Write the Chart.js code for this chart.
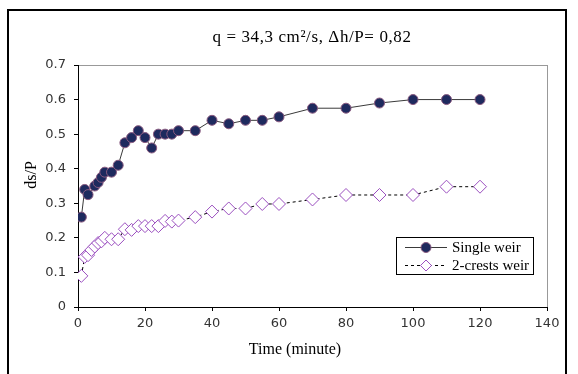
<!DOCTYPE html>
<html>
<head>
<meta charset="utf-8">
<script src="https://cdn.jsdelivr.net/npm/chart.js@4.4.1/dist/chart.umd.min.js"></script>
<style>
  html, body { margin: 0; padding: 0; background: #fff; }
  #wrap { position: relative; width: 578px; height: 374px; }
</style>
</head>
<body>
<div id="wrap"><canvas id="chart" width="578" height="374"></canvas></div>
<script>
// time in minutes
var singleTime = [1, 2, 3, 5, 6, 7, 8, 10, 12, 14, 16, 18, 20, 22, 24, 26, 28, 30, 35, 40, 45, 50, 55, 60, 70, 80, 90, 100, 110, 120];
var singleDs = [0.26, 0.34, 0.325, 0.35, 0.36, 0.375, 0.39, 0.39, 0.41, 0.475, 0.49, 0.51, 0.49, 0.46, 0.50, 0.50, 0.50, 0.51, 0.51, 0.54, 0.53, 0.54, 0.54, 0.55, 0.575, 0.575, 0.59, 0.60, 0.60, 0.60];

var crestTime = [1, 2, 3, 4, 5, 6, 7, 8, 10, 12, 14, 16, 18, 20, 22, 24, 26, 28, 30, 35, 40, 45, 50, 55, 60, 70, 80, 90, 100, 110, 120];
var crestDs = [0.09, 0.145, 0.15, 0.165, 0.175, 0.185, 0.19, 0.20, 0.196, 0.196, 0.225, 0.223, 0.234, 0.234, 0.234, 0.234, 0.249, 0.247, 0.25, 0.26, 0.276, 0.285, 0.285, 0.298, 0.298, 0.311, 0.324, 0.324, 0.324, 0.348, 0.348];

var xTicks = [0, 20, 40, 60, 80, 100, 120, 140];
var yTicks = [0, 0.1, 0.2, 0.3, 0.4, 0.5, 0.6, 0.7];

var chartTitle = "q = 34,3 cm\u00B2/s, \u0394h/P= 0,82";
var xTitle = "Time (minute)";
var yTitle = "ds/P";
var seriesNames = ["Single weir", "2-crests weir"];

function toPoints(xs, ys) {
  return xs.map(function (x, i) { return { x: x, y: ys[i] }; });
}

var serif = "'Liberation Serif', 'DejaVu Serif', serif";
var sans = "Verdana, 'DejaVu Sans', sans-serif";

// frame, titles and legend box (excel style)
var decor = {
  id: 'decor',
  beforeDraw: function (chart) {
    var ctx = chart.ctx;
    ctx.save();
    ctx.fillStyle = '#fff';
    ctx.fillRect(0, 0, chart.width, chart.height);
    ctx.strokeStyle = '#000';
    ctx.lineWidth = 2;
    ctx.strokeRect(8, 10, 558, 400);
    ctx.restore();
  },
  afterDraw: function (chart) {
    var ctx = chart.ctx;
    var ds = chart.data.datasets;
    ctx.save();
    ctx.fillStyle = '#000';
    ctx.textAlign = 'center';
    ctx.textBaseline = 'middle';
    ctx.font = '17px ' + serif;
    ctx.letterSpacing = '0.6px';
    ctx.fillText(chartTitle, 312, 38);
    ctx.letterSpacing = '0px';
    ctx.font = '16px ' + serif;
    ctx.fillText(xTitle, 295, 350);
    ctx.translate(32, 175);
    ctx.rotate(-Math.PI / 2);
    ctx.fillText(yTitle, 0, 0);
    ctx.restore();

    // legend
    ctx.save();
    ctx.strokeStyle = '#000';
    ctx.lineWidth = 1;
    ctx.fillStyle = '#fff';
    ctx.fillRect(396.5, 237.5, 137, 37);
    ctx.strokeRect(396.5, 237.5, 137, 37);
    ctx.font = '15px ' + serif;
    ctx.textAlign = 'left';
    ctx.textBaseline = 'middle';
    for (var i = 0; i < ds.length; i++) {
      var y = 247.5 + i * 18;
      ctx.strokeStyle = ds[i].borderColor;
      ctx.lineWidth = 1;
      ctx.setLineDash(ds[i].borderDash || []);
      ctx.beginPath();
      ctx.moveTo(405, y);
      ctx.lineTo(447, y);
      ctx.stroke();
      ctx.setLineDash([]);
      ctx.fillStyle = ds[i].pointBackgroundColor;
      ctx.strokeStyle = ds[i].pointBorderColor;
      ctx.beginPath();
      var r = ds[i].pointRadius;
      if (ds[i].pointStyle === 'circle') {
        ctx.arc(426, y, r, 0, Math.PI * 2);
      } else {
        r = r - 1;
        ctx.moveTo(426, y - r); ctx.lineTo(426 + r, y); ctx.lineTo(426, y + r); ctx.lineTo(426 - r, y); ctx.closePath();
      }
      ctx.fill();
      ctx.stroke();
      ctx.fillStyle = '#000';
      ctx.fillText(seriesNames[i], 452, y + 1);
    }
    ctx.restore();
  }
};

var ctx = document.getElementById('chart');
var chart = new Chart(ctx, {
  type: 'scatter',
  data: {
    datasets: [{
      label: seriesNames[0],
      data: toPoints(singleTime, singleDs),
      showLine: true,
      borderColor: '#3a3a3a',
      borderWidth: 1,
      pointStyle: 'circle',
      pointRadius: 5,
      pointBackgroundColor: '#1e2a5e',
      pointBorderColor: '#8a5a80',
      pointBorderWidth: 1
    }, {
      label: seriesNames[1],
      data: toPoints(crestTime, crestDs),
      showLine: true,
      borderColor: '#000',
      borderWidth: 1,
      borderDash: [3, 3],
      pointStyle: 'rectRot',
      pointRadius: 6.5,
      pointBackgroundColor: '#fff',
      pointBorderColor: '#9b4fc0',
      pointBorderWidth: 1
    }]
  },
  options: {
    responsive: false,
    animation: false,
    layout: { padding: { left: 0, right: 31, top: 65, bottom: 37 } },
    plugins: {
      legend: { display: false },
      title: { display: false },
      tooltip: { enabled: false }
    },
    scales: {
      x: {
        type: 'linear',
        min: 0,
        max: 140,
        afterFit: function (s) { s.height = 30; },
        afterBuildTicks: function (s) { s.ticks = xTicks.map(function (v) { return { value: v }; }); },
        border: { color: '#000', width: 1 },
        grid: {
          drawOnChartArea: true,
          tickLength: 4,
          tickColor: '#000',
          color: function (c) { return c.tick && c.tick.value === 140 ? '#999' : 'rgba(0,0,0,0)'; }
        },
        ticks: { color: '#333', padding: 5, font: { family: sans, size: 13 } }
      },
      y: {
        min: 0,
        max: 0.7,
        afterFit: function (s) { s.width = 78; },
        afterBuildTicks: function (s) { s.ticks = yTicks.map(function (v) { return { value: v }; }); },
        border: { color: '#000', width: 1 },
        grid: {
          drawOnChartArea: true,
          tickLength: 4,
          tickColor: '#000',
          color: function (c) { return c.tick && c.tick.value === 0.7 ? '#999' : 'rgba(0,0,0,0)'; }
        },
        ticks: {
          color: '#333',
          padding: 8,
          font: { family: sans, size: 13 },
          callback: function (v) { return v === 0 ? '0' : v.toFixed(1); }
        }
      }
    }
  },
  plugins: [decor]
});
</script>
</body>
</html>
